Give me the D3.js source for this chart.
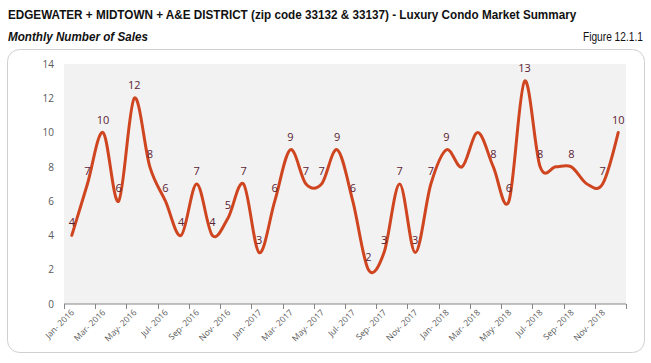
<!DOCTYPE html>
<html>
<head>
<meta charset="utf-8">
<script src="https://cdn.jsdelivr.net/npm/d3@7"></script>
<style>
  body { margin: 0; background: #fff; }
  svg { display: block; }
</style>
</head>
<body>
<div id="chart"></div>
<script>
const months = [
  "Jan-2016", "Feb-2016", "Mar-2016", "Apr-2016", "May-2016", "Jun-2016",
  "Jul-2016", "Aug-2016", "Sep-2016", "Oct-2016", "Nov-2016", "Dec-2016",
  "Jan-2017", "Feb-2017", "Mar-2017", "Apr-2017", "May-2017", "Jun-2017",
  "Jul-2017", "Aug-2017", "Sep-2017", "Oct-2017", "Nov-2017", "Dec-2017",
  "Jan-2018", "Feb-2018", "Mar-2018", "Apr-2018", "May-2018", "Jun-2018",
  "Jul-2018", "Aug-2018", "Sep-2018", "Oct-2018", "Nov-2018", "Dec-2018"
];
const sales = [
  4, 7, 10, 6, 12, 8, 6, 4, 7, 4, 5, 7,
  3, 6, 9, 7, 7, 9, 6, 2, 3, 7, 3, 7,
  9, 8, 10, 8, 6, 13, 8, 8, 8, 7, 7, 10
];
// months whose value label is not shown in the original
const unlabeled = ["Feb-2018", "Mar-2018", "Aug-2018", "Oct-2018"];
const yTicks = [0, 2, 4, 6, 8, 10, 12, 14];

const W = 651, H = 363;
const plot = { left: 64, right: 626, top: 64, bottom: 304 };
const headFont = "'Liberation Sans', Arial, sans-serif";

const svg = d3.select("#chart").append("svg")
  .attr("width", W)
  .attr("height", H);

// squeeze a heading horizontally to mimic the narrow font of the original
function narrowText(x, y, width, size, txt, opts = {}) {
  const t = svg.append("text")
    .attr("font-family", headFont)
    .attr("font-size", size + "px")
    .attr("font-weight", opts.weight || "normal")
    .attr("font-style", opts.style || "normal")
    .attr("fill", "#111")
    .text(txt);
  const natural = t.node().getComputedTextLength();
  const k = width / natural;
  t.attr("transform", `translate(${x},${y}) scale(${k},1)`);
  return t;
}

narrowText(8, 19, 569, 13.5,
  "EDGEWATER + MIDTOWN + A&E DISTRICT (zip code 33132 & 33137) - Luxury Condo Market Summary",
  { weight: "bold" });
narrowText(8, 41, 140, 12.5, "Monthly Number of Sales", { weight: "bold", style: "italic" });
narrowText(583, 41, 60, 12.5, "Figure 12.1.1");

// chart frame
svg.append("rect")
  .attr("x", 7.5)
  .attr("y", 49.5)
  .attr("width", 637)
  .attr("height", 303)
  .attr("rx", 12)
  .attr("fill", "#fff")
  .attr("stroke", "#d0d0d0");

const x = d3.scaleBand()
  .domain(months)
  .range([plot.left, plot.right]);

const y = d3.scaleLinear()
  .domain([0, 14])
  .range([plot.bottom, plot.top]);

svg.append("rect")
  .attr("x", plot.left)
  .attr("y", plot.top)
  .attr("width", plot.right - plot.left)
  .attr("height", plot.bottom - plot.top)
  .attr("fill", "#f2f2f2");

// y axis labels
const yAxis = svg.append("g")
  .attr("transform", `translate(${plot.left},0)`)
  .call(d3.axisLeft(y).tickValues(yTicks).tickSize(0).tickPadding(10));
yAxis.select(".domain").remove();
yAxis.selectAll("text")
  .attr("font-family", "'Open Sans', sans-serif")
  .attr("font-size", "10px")
  .attr("fill", "#595959");

// x axis: ticks on category boundaries every two months
const xAxisG = svg.append("g")
  .attr("transform", `translate(0,${plot.bottom})`);

xAxisG.append("line")
  .attr("x1", plot.left)
  .attr("x2", plot.right)
  .attr("stroke", "#868686")
  .attr("stroke-width", 1);

const tickMonths = months.filter((m, i) => i % 2 === 0);
const tickXs = tickMonths.map(m => x(m)).concat([x.range()[1]]);

xAxisG.selectAll("line.tick")
  .data(tickXs)
  .join("line")
  .attr("class", "tick")
  .attr("x1", d => Math.round(d) + 0.5)
  .attr("x2", d => Math.round(d) + 0.5)
  .attr("y1", 0)
  .attr("y2", 5)
  .attr("stroke", "#868686");

xAxisG.selectAll("text.xlab")
  .data(tickMonths)
  .join("text")
  .attr("class", "xlab")
  .attr("transform", d => `translate(${x(d) + x.bandwidth() / 2 + 3},${9}) rotate(-45)`)
  .attr("text-anchor", "end")
  .attr("font-family", "'Open Sans', sans-serif")
  .attr("font-size", "8.5px")
  .attr("fill", "#595959")
  .text(d => d.replace("-", "- "));

// smoothed line
const points = months.map((m, i) => ({ month: m, value: sales[i] }));

const line = d3.line()
  .x(d => x(d.month) + x.bandwidth() / 2)
  .y(d => y(d.value))
  .curve(d3.curveCardinal.tension(0));

svg.append("path")
  .datum(points)
  .attr("d", line)
  .attr("fill", "none")
  .attr("stroke", "#cf4520")
  .attr("stroke-width", 3)
  .attr("stroke-linejoin", "round")
  .attr("stroke-linecap", "round");

// value labels
svg.selectAll("text.val")
  .data(points.filter(d => !unlabeled.includes(d.month)))
  .join("text")
  .attr("class", "val")
  .attr("x", d => x(d.month) + x.bandwidth() / 2)
  .attr("y", d => y(d.value) - 9)
  .attr("text-anchor", "middle")
  .attr("font-family", "'Open Sans', sans-serif")
  .attr("font-size", "11px")
  .attr("fill", "#5b2333")
  .text(d => d.value);
</script>
</body>
</html>
